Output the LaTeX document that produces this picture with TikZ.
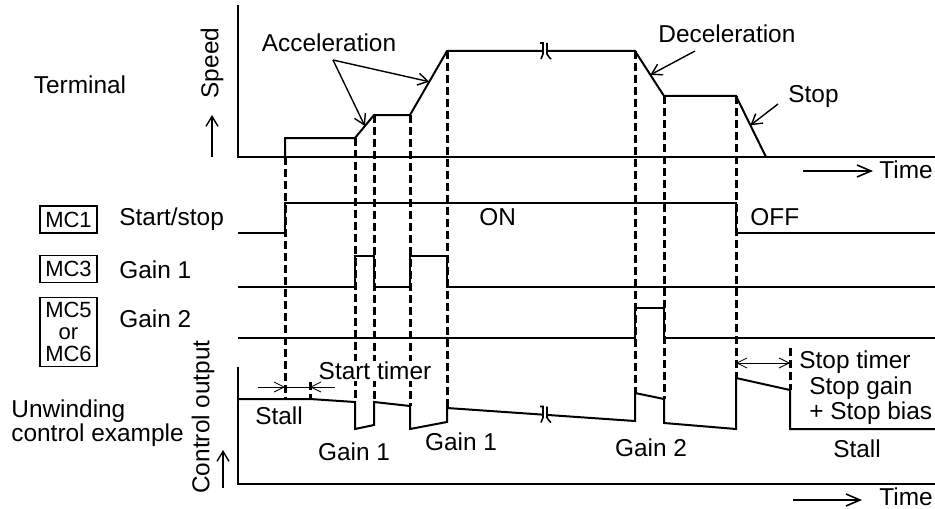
\documentclass[tikz,border=0pt]{standalone}
\usepackage{fontspec}
\setmainfont{Liberation Sans}
\usetikzlibrary{arrows.meta,positioning,calc}
\tikzset{
  lbl/.style={font=\fontsize{12.2}{12.6}\selectfont, inner sep=1pt},
  wave/.style={draw, line width=1pt, line join=miter},
  marker/.style={draw, line width=1.5pt, dash pattern=on 4pt off 2pt},
  pointer/.style={draw, line width=0.7pt, -{Straight Barb[length=5pt,width=6pt]}},
  timeaxis/.style={draw, line width=0.8pt, -{Straight Barb[length=7pt,width=6pt]}},
  span/.style={draw, line width=0.4pt},
  spantip/.style={span, -{Straight Barb[length=5pt,width=5pt]}},
  mcbox/.style={draw, line width=0.8pt, font=\fontsize{11}{11.2}\selectfont, minimum width=28.5pt, minimum height=13.5pt, inner sep=1pt, align=center},
  brk/.pic={
    \fill[white] (-3,-4) rectangle (3,4);
    \draw[line width=0.8pt] (-5,-8) -- (-2,-8) -- (-2,3) -- (-4,8);
    \draw[line width=0.8pt] (2,-8) -- (2,3) -- (4,6) -- (6,8);
  }
}

\begin{document}
\begin{tikzpicture}[x=0.5pt, y=-0.5pt]
\useasboundingbox (0,0) rectangle (935,508);

% speed profile
\draw[wave] (238,5) -- (238,157) -- (935,157);
\draw[wave] (285,157) -- (285,138) -- (355,138) coordinate (r1s) -- (374,115) coordinate (r1e)
  -- (410,115) coordinate (r2s) -- (447,51) coordinate (r2e) -- (635,51) coordinate (r3s)
  -- (664,96) coordinate (r3e) -- (736,96) coordinate (r4s) -- (766,157) coordinate (r4e);
\pic at (545,51) {brk};

\node[lbl] (term) at (80,85) {Terminal};
\node[lbl, rotate=90] (speed) at (212,63) {Speed};
\coordinate (spd0) at (212,157);
\coordinate (spd1) at (212,115);
\draw[pointer] (spd0) -- (spd1);

\node[lbl] (acc) at (329,43) {Acceleration};
\node[lbl, anchor=west] (dec) at (656,34) {Deceleration};
\node[lbl, anchor=west] (stp) at (786,97) {Stop};
\coordinate (accft) at (333,60);
\coordinate (decft) at (695,51);
\coordinate (stpft) at (778,104);
\draw[pointer] (accft) -- ($(r1s)!.52!(r1e)$);
\draw[pointer] (accft) -- ($(r2s)!.52!(r2e)$);
\draw[pointer] (decft) -- ($(r3s)!.53!(r3e)$);
\draw[pointer] (stpft) -- ($(r4s)!.48!(r4e)$);

\coordinate (t1a) at (803,171);
\coordinate (t1b) at (873,171);
\draw[timeaxis] (t1a) -- (t1b);
\node[lbl, anchor=west] (time1) at (877,170) {Time};

% terminals
\node[mcbox] (mc1) at (68.5,219.5) {MC1};
\node[lbl, anchor=west] (mc1txt) at (117,219) {Start/stop};
\draw[wave] (238,233) -- (285,233) -- (285,203) -- (736,203) -- (736,233) -- (935,233);
\node[lbl, anchor=west] (on) at (477,217) {ON};
\node[lbl, anchor=west] (off) at (748,217) {OFF};

\node[mcbox] (mc3) at (68.5,269) {MC3};
\node[lbl, anchor=west] (mc3txt) at (117,270) {Gain 1};
\draw[wave] (238,287) -- (355,287) -- (355,256) -- (374,256) -- (374,287) -- (410,287)
  -- (410,256) -- (447,256) -- (447,287) -- (935,287);

\node[mcbox, minimum height=34.5pt, font=\fontsize{11}{10.8}\selectfont] (mc5) at (68.5,332) {MC5\\or\\MC6};
\node[lbl, anchor=west] (mc5txt) at (117,319) {Gain 2};
\draw[wave] (238,338) -- (635,338) -- (635,308) -- (664,308) -- (664,338) -- (935,338);

% control output
\draw[wave] (238,367) -- (238,484) -- (935,484);
\draw[wave] (238,399) -- (310,399) -- (355,402) -- (355,429) -- (374,425) -- (374,402)
  -- (410,406) -- (410,429) -- (447,422) -- (447,408) -- (635,421) -- (635,393)
  -- (664,399) -- (664,423) -- (736,429) -- (736,378) -- (790,390) -- (790,429) -- (935,429);
\pic at (545,414.5) {brk};

\node[lbl, rotate=90] (ctrl) at (203,417) {Control output};
\coordinate (co0) at (223,488);
\coordinate (co1) at (223,450);
\draw[pointer] (co0) -- (co1);
\node[lbl, anchor=west, align=left, font=\fontsize{12.2}{11.7}\selectfont] (unw) at (9,423) {Unwinding\\control example};

% markers
\foreach \x/\ya/\yb in {285/157/399, 355/138/402, 374/115/402, 410/115/406, 447/51/408,
  635/51/393, 664/96/399, 736/96/378, 790/348/390, 310/382/399}
  \draw[marker] (\x,\ya) -- (\x,\yb);

\node[lbl, fill=white, inner sep=0.5pt] (sttxt) at (375,371) {Start timer};
\coordinate (st0) at (258,387);
\coordinate (st1) at (285,387);
\coordinate (st2) at (310,387);
\coordinate (st3) at (335,387);
\draw[span] (st1) -- (st2);
\draw[spantip] (st0) -- (st1);
\draw[spantip] (st3) -- (st2);

\coordinate (sp1) at (736,363);
\coordinate (sp2) at (790,363);
\draw[span, {Straight Barb[length=5pt,width=5pt]}-{Straight Barb[length=5pt,width=5pt]}] (sp1) -- (sp2);
\node[lbl, anchor=west] (sptxt) at (797,362) {Stop timer};
\node[lbl, anchor=west, align=left, font=\fontsize{12.2}{9.5}\selectfont] (sgain) at (807,401) {Stop gain\\+ Stop bias};

\node[lbl] (stall1) at (279,416) {Stall};
\node[lbl] (g1a) at (354,452) {Gain 1};
\node[lbl] (g1b) at (461,442) {Gain 1};
\node[lbl] (g2) at (651,448) {Gain 2};
\node[lbl] (stall2) at (857,449) {Stall};

\coordinate (t2a) at (793,500);
\coordinate (t2b) at (862,500);
\draw[timeaxis] (t2a) -- (t2b);
\node[lbl, anchor=west] (time2) at (877,497) {Time};
\end{tikzpicture}
\end{document}
